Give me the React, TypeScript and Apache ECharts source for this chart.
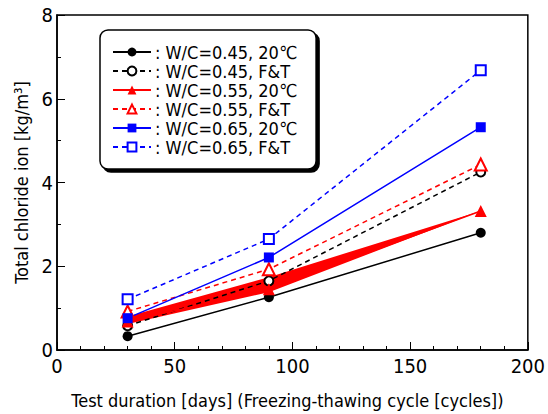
import React, { useEffect, useRef } from "react";
import * as echarts from "echarts";

const xValues = [30, 90, 180];
const names = [
  "W/C=0.45, 20℃",
  "W/C=0.45, F&T",
  "W/C=0.55, 20℃",
  "W/C=0.55, F&T",
  "W/C=0.65, 20℃",
  "W/C=0.65, F&T",
];
const wc045_20 = [0.33, 1.26, 2.8];
const wc045_ft = [0.58, 1.65, 4.25];
const wc055_20 = [0.68, 1.45, 3.32];
const wc055_ft = [0.92, 1.93, 4.43];
const wc065_20 = [0.76, 2.21, 5.32];
const wc065_ft = [1.21, 2.65, 6.68];
const wedgeX = [30, 90, 180, 90, 30];
const wedgeY = [0.8, 1.74, 3.32, 1.38, 0.62];
const xTicks = [0, 50, 100, 150, 200];
const yTicks = [0, 2, 4, 6, 8];

const FONT = "'DejaVu Sans Condensed', 'DejaVu Sans', sans-serif";

function pairs(ys: number[]) {
  return xValues.map((x, i) => [x, ys[i]]);
}

export default function App() {
  const ref = useRef<HTMLDivElement>(null);
  useEffect(() => {
    if (!ref.current) return;
    const chart = echarts.init(ref.current, undefined, { renderer: "svg" });
    const mk = (
      name: string,
      ys: number[],
      color: string,
      symbol: string,
      size: number,
      dashed: boolean
    ) => ({
      name,
      type: "line",
      data: pairs(ys),
      symbol,
      symbolSize: size,
      color,
      itemStyle: { color, borderWidth: dashed ? 1.5 : 0 },
      lineStyle: { color, width: 1.5, type: dashed ? [5, 4] : "solid" },
    });
    chart.setOption({
      animation: false,
      textStyle: { fontFamily: FONT },
      grid: {
        left: 57,
        right: 19,
        top: 15,
        bottom: 63,
        show: true,
        borderColor: "#000",
        borderWidth: 1.5,
        backgroundColor: "transparent",
      },
      legend: {
        data: names,
        orient: "vertical",
        left: 100,
        top: 30,
        padding: [13, 19, 13, 12],
        itemWidth: 38,
        itemHeight: 11,
        itemGap: 1,
        backgroundColor: "#fff",
        borderColor: "#000",
        borderWidth: 1.5,
        borderRadius: 8,
        shadowColor: "#000",
        shadowBlur: 0,
        shadowOffsetX: 3,
        shadowOffsetY: 3,
        formatter: (n: string) => ": " + n,
        textStyle: {
          fontFamily: FONT,
          fontSize: 18,
          color: "#000",
          lineHeight: 18,
          padding: [0, 0, 0, -1],
        },
      },
      xAxis: {
        type: "value",
        min: xTicks[0],
        max: xTicks[xTicks.length - 1],
        interval: 50,
        name: "Test duration [days] (Freezing-thawing cycle [cycles])",
        nameLocation: "middle",
        nameGap: 41,
        nameTextStyle: { fontFamily: FONT, fontSize: 18, color: "#000", padding: [0, 10, 0, 0] },
        axisLine: { show: true, lineStyle: { color: "#000", width: 1.5 } },
        axisTick: { show: true, inside: true, length: 8, lineStyle: { color: "#000" } },
        minorTick: { show: true, splitNumber: 5, length: 4, lineStyle: { color: "#000" } },
        splitLine: { show: false },
        axisLabel: { fontFamily: FONT, fontSize: 20, color: "#000", margin: 6 },
      },
      yAxis: {
        type: "value",
        min: yTicks[0],
        max: yTicks[yTicks.length - 1],
        interval: 2,
        name: "Total chloride ion [kg/m³]",
        nameLocation: "middle",
        nameGap: 24,
        nameTextStyle: { fontFamily: FONT, fontSize: 18, color: "#000" },
        axisLine: { show: true, lineStyle: { color: "#000", width: 1.5 } },
        axisTick: { show: true, inside: true, length: 8, lineStyle: { color: "#000" } },
        minorTick: { show: true, splitNumber: 2, length: 4, lineStyle: { color: "#000" } },
        splitLine: { show: false },
        axisLabel: { fontFamily: FONT, fontSize: 20, color: "#000", margin: 4 },
      },
      series: [
        mk(names[0], wc045_20, "#000000", "circle", 10, false),
        mk(names[1], wc045_ft, "#000000", "emptyCircle", 9, true),
        {
          name: "wedge",
          type: "custom",
          silent: true,
          data: [[wedgeX[0], wedgeY[0]]],
          renderItem: (_p: any, api: any) => {
            const pts = wedgeX.map((x, i) => api.coord([x, wedgeY[i]]));
            return { type: "polygon", shape: { points: pts }, style: { fill: "#ff0000" } };
          },
        },
        mk(names[2], wc055_20, "#ff0000", "triangle", 12, false),
        mk(names[3], wc055_ft, "#ff0000", "emptyTriangle", 12, true),
        mk(names[4], wc065_20, "#0000ff", "rect", 10, false),
        mk(names[5], wc065_ft, "#0000ff", "emptyRect", 10, true),
      ],
    });
    return () => chart.dispose();
  }, []);
  return <div ref={ref} style={{ width: 548, height: 414, position: "absolute", left: 0, top: 0 }} />;
}
